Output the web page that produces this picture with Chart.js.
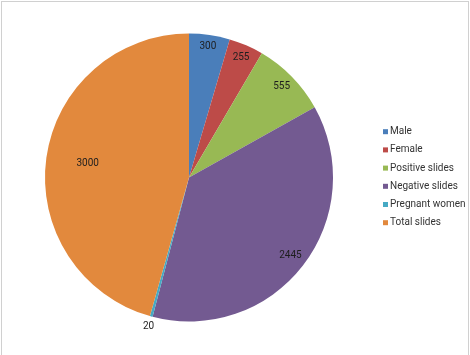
<!DOCTYPE html>
<html>
<head>
<meta charset="utf-8">
<script src="https://cdn.jsdelivr.net/npm/chart.js@4"></script>
<style>
  html, body { margin: 0; padding: 0; background: #fff; }
  #wrap { position: relative; width: 470px; height: 355px; overflow: hidden; }
  #frame { position: absolute; left: 1px; top: 1px; width: 466px; height: 360px; border: 1px solid #d0d0d0; pointer-events: none; }
  canvas { position: absolute; left: 0; top: 0; }
</style>
</head>
<body>
<div id="wrap">
  <canvas id="pie" width="470" height="355"></canvas>
  <div id="frame"></div>
</div>
<script>
const categories = ["Male", "Female", "Positive slides", "Negative slides", "Pregnant women", "Total slides"];
const values = [300, 255, 555, 2445, 20, 3000];
const sliceColors = ["#4a7eba", "#bd4b48", "#98b954", "#735a91", "#46aac4", "#e2893d"];

// how far out each value label sits, as a share of the radius
const labelSpots = [0.92, 0.91, 0.9, 0.89, 1.07, 0.71];
const textFont = '10px Roboto, "Liberation Sans", sans-serif';

// value labels on the slices
const sliceLabels = {
  id: "sliceLabels",
  afterDatasetsDraw(chart) {
    const ctx = chart.ctx;
    const arcs = chart.getDatasetMeta(0).data;
    ctx.save();
    ctx.font = textFont;
    ctx.fillStyle = "#1e1e1e";
    ctx.textAlign = "center";
    ctx.textBaseline = "middle";
    arcs.forEach((arc, i) => {
      const p = arc.getProps(["x", "y", "startAngle", "endAngle", "outerRadius"], true);
      const mid = (p.startAngle + p.endAngle) / 2;
      const r = p.outerRadius * labelSpots[i];
      ctx.fillText(String(values[i]), p.x + Math.cos(mid) * r, p.y + Math.sin(mid) * r);
    });
    ctx.restore();
  }
};

// legend drawn to the right of the pie, like the excel one
const sideLegend = {
  id: "sideLegend",
  afterDraw(chart) {
    const ctx = chart.ctx;
    const x = 383, step = 18.2;
    const top = 177.2 - step * (categories.length - 1) / 2;
    ctx.save();
    ctx.font = textFont;
    ctx.textBaseline = "middle";
    ctx.textAlign = "left";
    categories.forEach((name, i) => {
      const y = top + i * step;
      ctx.fillStyle = sliceColors[i];
      ctx.fillRect(x, y - 2.5, 5, 5);
      ctx.fillStyle = "#333";
      ctx.fillText(name, x + 7, y);
    });
    ctx.restore();
  }
};

new Chart(document.getElementById("pie"), {
  type: "pie",
  data: {
    labels: categories,
    datasets: [{
      data: values,
      backgroundColor: sliceColors,
      borderWidth: 0
    }]
  },
  options: {
    responsive: false,
    animation: false,
    layout: { padding: { left: 45, right: 137, top: 33, bottom: 33 } },
    plugins: {
      legend: { display: false },
      tooltip: { enabled: false }
    }
  },
  plugins: [sliceLabels, sideLegend]
});
</script>
</body>
</html>
